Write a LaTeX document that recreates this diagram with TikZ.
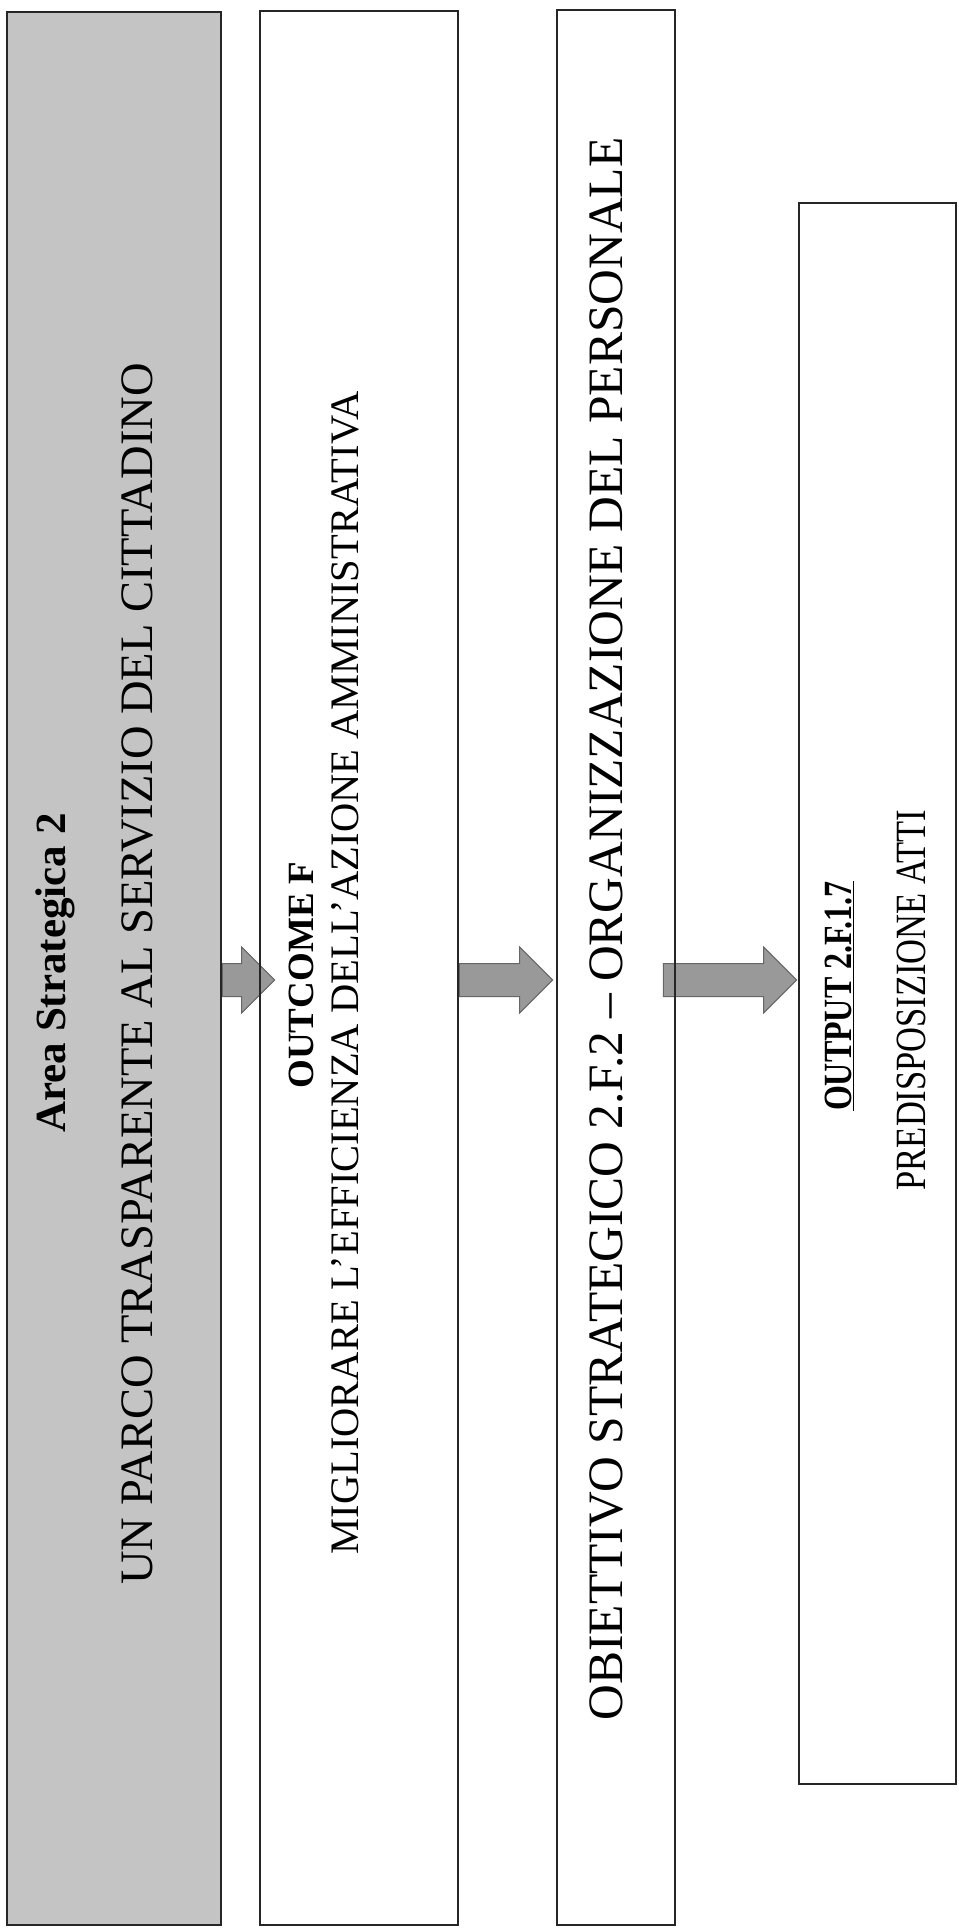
\documentclass[tikz,border=0pt]{standalone}
\usepackage{fontspec}
\setmainfont{Liberation Serif}
\usetikzlibrary{calc,backgrounds}

\definecolor{boxgray}{rgb}{0.77,0.77,0.77}
\definecolor{arrowgray}{rgb}{0.6,0.6,0.6}

\tikzset{
	box/.style={draw=black!85, line width=2.8pt, inner sep=0pt},
	areabox/.style={box, fill=boxgray},
	vlabel/.style={rotate=90, anchor=base, inner sep=0pt},
	arrowshape/.style={draw=black!60, fill=arrowgray, line width=1pt},
}

% block arrow from #1 (shaft end) to #2 (tip)
\newcommand{\blockarrow}[2]{%
	\draw[arrowshape] ($(#1)+(0,-16.5)$) -- ($(#2)+(-33,-16.5)$) -- ($(#2)+(-33,-33)$) -- (#2)
	-- ($(#2)+(-33,33)$) -- ($(#2)+(-33,16.5)$) -- ($(#1)+(0,16.5)$) -- cycle;}

\begin{document}
\begin{tikzpicture}[x=1pt,y=1pt,yscale=-1,xscale=1]
		\useasboundingbox (0,0) rectangle (958,1932);

		% The four columns
		\node[areabox, minimum width=214, minimum height=1913] (area) at (114,968.5) {};
		\node[box, minimum width=198, minimum height=1914] (outcome) at (359,968) {};
		\node[box, minimum width=118, minimum height=1915] (obiettivo) at (616,967.5) {};
		\node[box, minimum width=157, minimum height=1581] (output) at (877.5,993.5) {};

		% Horizontal line the arrows sit on
		\coordinate (arrowline) at (0,980);

		% The arrows between the columns (behind the borders)
		\begin{scope}[on background layer]
			\blockarrow{area.east |- arrowline}{$(outcome.west |- arrowline)+(16,0)$}
			\blockarrow{outcome.east |- arrowline}{$(obiettivo.west |- arrowline)+(-3,0)$}
			\blockarrow{$(obiettivo.east |- arrowline)+(-13,0)$}{$(output.west |- arrowline)+(-1,0)$}
		\end{scope}

		% Text of the first column
		\node[vlabel] (areatitle) at (65,973) {\fontsize{43}{50}\selectfont\bfseries Area Strategica 2};
		\node[vlabel] (areatext) at (152,974) {\fontsize{46.5}{52}\selectfont UN PARCO TRASPARENTE AL SERVIZIO DEL CITTADINO};

		% Text of the second column
		\node[vlabel] (outcometitle) at (313,975) {\fontsize{37}{44}\selectfont\bfseries OUTCOME F};
		\node[vlabel] (outcometext) at (358,973) {\fontsize{40.5}{46}\selectfont MIGLIORARE L’EFFICIENZA DELL’AZIONE AMMINISTRATIVA};

		% Text of the third column
		\node[vlabel] (obiettivotext) at (622,929) {\fontsize{49.5}{56}\selectfont OBIETTIVO STRATEGICO 2.F.2 – ORGANIZZAZIONE DEL PERSONALE};

		% Text of the fourth column (letters taller than wide)
		\node[vlabel] (outputtitle) at (851,996) {\scalebox{1}[1.25]{\fontsize{32}{38}\selectfont\bfseries\underline{OUTPUT 2.F.1.7}}};
		\node[vlabel] (outputtext) at (925,1000) {\scalebox{1}[1.25]{\fontsize{34.5}{40}\selectfont PREDISPOSIZIONE ATTI}};
\end{tikzpicture}
\end{document}
